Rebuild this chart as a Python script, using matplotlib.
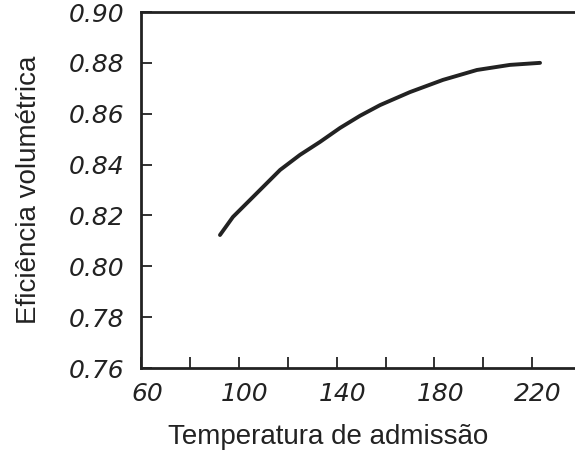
import matplotlib
matplotlib.use("Agg")
import matplotlib.pyplot as plt
from matplotlib.ticker import FixedLocator
from matplotlib.transforms import ScaledTranslation

# curve
temp = [92.3, 97.6, 104.6, 116.9, 125.0, 133.2, 141.4, 149.6, 157.8,
        170.0, 183.5, 197.4, 210.9, 223.2]
eff = [0.8123, 0.8194, 0.8261, 0.8379, 0.8438, 0.8489, 0.8544, 0.8592, 0.8634,
       0.8685, 0.8733, 0.8772, 0.8792, 0.8800]

x_major = [60, 100, 140, 180, 220]
x_minor = [80, 120, 160, 200]
y_ticks = [0.76, 0.78, 0.80, 0.82, 0.84, 0.86, 0.88, 0.90]
y_labels = ["0.76", "0.78", "0.80", "0.82", "0.84", "0.86", "0.88", "0.90"]

INK = "#222222"

fig = plt.figure(figsize=(5.75, 4.57), dpi=100)
ax = fig.add_axes([141 / 575, 89 / 457, 460 / 575, 356 / 457])

ax.plot(temp, eff, color=INK, lw=2.8, solid_capstyle="round")

ax.set_xlim(60, 60 + 460 / 48.9 * 20)
ax.set_ylim(0.76, 0.90)

ax.xaxis.set_major_locator(FixedLocator(x_major))
ax.xaxis.set_minor_locator(FixedLocator(x_minor))
ax.set_xticklabels([str(v) for v in x_major])
ax.set_yticks(y_ticks)
ax.set_yticklabels(y_labels)

ax.tick_params(axis="both", which="both", direction="in", length=8, width=1.3,
               color=INK)
ax.tick_params(axis="x", pad=10)
ax.tick_params(axis="y", pad=12)

for side in ("left", "bottom", "top"):
    ax.spines[side].set_linewidth(2)
    ax.spines[side].set_color(INK)
ax.spines["right"].set_visible(False)

ax.set_ylabel("Eficiência volumétrica", family="Liberation Sans", size=20,
              color=INK)
ax.yaxis.set_label_coords((42 - 141) / 460, 0.5)
ax.set_xlabel("Temperatura de admissão", family="Liberation Sans", size=20,
              color=INK)
ax.xaxis.set_label_coords((328 - 141) / 460, (368 - 424) / 356)

fig.canvas.draw()
shift = ScaledTranslation(6 / 100, 0, fig.dpi_scale_trans)
for tick in ax.xaxis.get_major_ticks():
    tick.label1.set_transform(tick.label1.get_transform() + shift)
for lab in ax.get_xticklabels() + ax.get_yticklabels():
    lab.set_fontfamily("DejaVu Sans")
    lab.set_fontstyle("italic")
    lab.set_fontsize(18)
    lab.set_color(INK)

fig.savefig("out.png", dpi=100)
